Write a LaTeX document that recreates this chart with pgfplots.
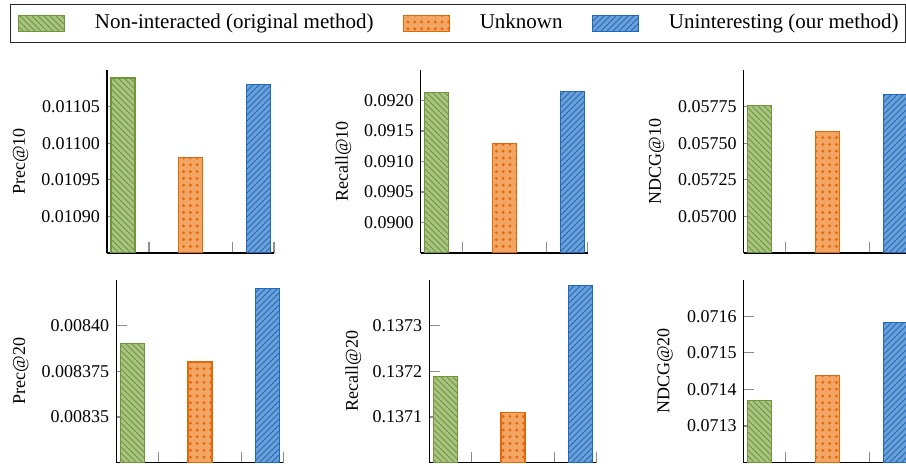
\documentclass[border=0pt]{standalone}
\usepackage{fontspec}
\setmainfont{Liberation Serif}
\usepackage{pgfplots}
\pgfplotsset{compat=1.18}
\usetikzlibrary{patterns}
\pgfdeclarepatternformonly{bigdots}{\pgfqpoint{-1pt}{-1pt}}{\pgfqpoint{1pt}{1pt}}{\pgfqpoint{3.4pt}{3.4pt}}{%
  \pgfpathcircle{\pgfqpoint{0pt}{0pt}}{0.8pt}\pgfusepath{fill}}
\definecolor{gfill}{RGB}{169,196,130}
\definecolor{gline}{RGB}{112,150,60}
\definecolor{ofill}{RGB}{243,166,100}
\definecolor{oline}{RGB}{226,104,10}
\definecolor{bfill}{RGB}{108,160,215}
\definecolor{bline}{RGB}{30,105,190}
\pgfplotsset{
  panel/.style={
    scale only axis, width=83.5pt, height=91.5pt,
    anchor=south west,
    axis x line=bottom, axis y line=left,
    axis line style={-, black, line width=0.6pt},
    xmin=-0.237, xmax=2.229,
    xtick={0.383,1.616,2.229}, xticklabels={},
    tick align=inside, major tick length=5.3pt,
    tick style={black!45, line width=0.6pt},
    scaled y ticks=false,
    tick label style={font=\fontsize{9}{10.8}\selectfont},
    label style={font=\fontsize{9}{10.8}\selectfont},
    /pgf/number format/assume math mode=true,
    legend image code/.code={\draw[##1] (0pt,-4pt) rectangle (23pt,4pt);},
  },
  gbar/.style={ybar, bar width=0.355, bar shift=0pt, fill=gfill, draw=gline, line width=0.6pt, postaction={pattern=north west lines, pattern color=gline}},
  obar/.style={ybar, bar width=0.355, bar shift=0pt, fill=ofill, draw=oline, line width=0.6pt, postaction={pattern=bigdots, pattern color=oline}},
  bbar/.style={ybar, bar width=0.355, bar shift=0pt, fill=bfill, draw=bline, line width=0.6pt, postaction={pattern=north east lines, pattern color=bline}},
}
\begin{document}
\begin{tikzpicture}
\useasboundingbox (0,0) rectangle (453pt,232pt);
% Prec@10
\begin{axis}[panel, at={(53.5pt,105.5pt)},
  ymin=0.01085, ymax=0.0111,
  ytick={0.0109,0.01095,0.011,0.01105},
  yticklabels={0.01090,0.01095,0.01100,0.01105},
  ylabel={Prec@10}, ylabel style={at={(axis description cs:-0.517,0.5)}, anchor=center},
  legend columns=3,
  legend style={at={(axis description cs:-0.5808,1.3607)}, anchor=north west,
    draw=black!85, line width=0.7pt, inner xsep=3.5pt, inner ysep=4.5pt,
    nodes={inner sep=0pt, text depth=0.25em},
    font=\fontsize{10.5}{12.6}\selectfont,
    /tikz/every odd column/.style={column sep=15pt},
    /tikz/every even column/.style={column sep=14.5pt}},
]
\addplot[gbar] coordinates {(0,0.011089)};
\addlegendentry{Non-interacted (original method)}
\addplot[obar] coordinates {(1,0.01098)};
\addlegendentry{Unknown}
\addplot[bbar] coordinates {(2,0.01108)};
\addlegendentry{Uninteresting (our method)}
\end{axis}
% Recall@10
\begin{axis}[panel, at={(210.35pt,105.5pt)},
  ymin=0.0895, ymax=0.0925,
  ytick={0.09,0.0905,0.091,0.0915,0.092},
  yticklabels={0.0900,0.0905,0.0910,0.0915,0.0920},
  ylabel={Recall@10}, ylabel style={at={(axis description cs:-0.463,0.5)}, anchor=center},
]
\addplot[gbar] coordinates {(0,0.09213)};
\addplot[obar] coordinates {(1,0.0913)};
\addplot[bbar] coordinates {(2,0.09215)};
\end{axis}
% NDCG@10
\begin{axis}[panel, at={(371.85pt,105.5pt)},
  ymin=0.05675, ymax=0.0580,
  ytick={0.057,0.05725,0.0575,0.05775},
  yticklabels={0.05700,0.05725,0.05750,0.05775},
  ylabel={NDCG@10}, ylabel style={at={(axis description cs:-0.521,0.5)}, anchor=center},
]
\addplot[gbar] coordinates {(0,0.05776)};
\addplot[obar] coordinates {(1,0.05758)};
\addplot[bbar] coordinates {(2,0.05783)};
\end{axis}
% Prec@20
\begin{axis}[panel, at={(58.15pt,0.65pt)},
  ymin=0.008325, ymax=0.008425,
  ytick={0.00835,0.008375,0.0084},
  yticklabels={0.00835,0.008375,0.00840},
  ylabel={Prec@20}, ylabel style={at={(axis description cs:-0.572,0.5)}, anchor=center},
]
\addplot[gbar] coordinates {(0,0.00839)};
\addplot[obar] coordinates {(1,0.00838)};
\addplot[bbar] coordinates {(2,0.00842)};
\end{axis}
% Recall@20
\begin{axis}[panel, at={(214.65pt,0.65pt)},
  ymin=0.1370, ymax=0.1374,
  ytick={0.1371,0.1372,0.1373},
  yticklabels={0.1371,0.1372,0.1373},
  ylabel={Recall@20}, ylabel style={at={(axis description cs:-0.455,0.5)}, anchor=center},
]
\addplot[gbar] coordinates {(0,0.137189)};
\addplot[obar] coordinates {(1,0.137109)};
\addplot[bbar] coordinates {(2,0.137388)};
\end{axis}
% NDCG@20
\begin{axis}[panel, at={(371.85pt,0.65pt)},
  ymin=0.0712, ymax=0.0717,
  ytick={0.0713,0.0714,0.0715,0.0716},
  yticklabels={0.0713,0.0714,0.0715,0.0716},
  ylabel={NDCG@20}, ylabel style={at={(axis description cs:-0.471,0.5)}, anchor=center},
]
\addplot[gbar] coordinates {(0,0.071369)};
\addplot[obar] coordinates {(1,0.071439)};
\addplot[bbar] coordinates {(2,0.071582)};
\end{axis}
\end{tikzpicture}
\end{document}
